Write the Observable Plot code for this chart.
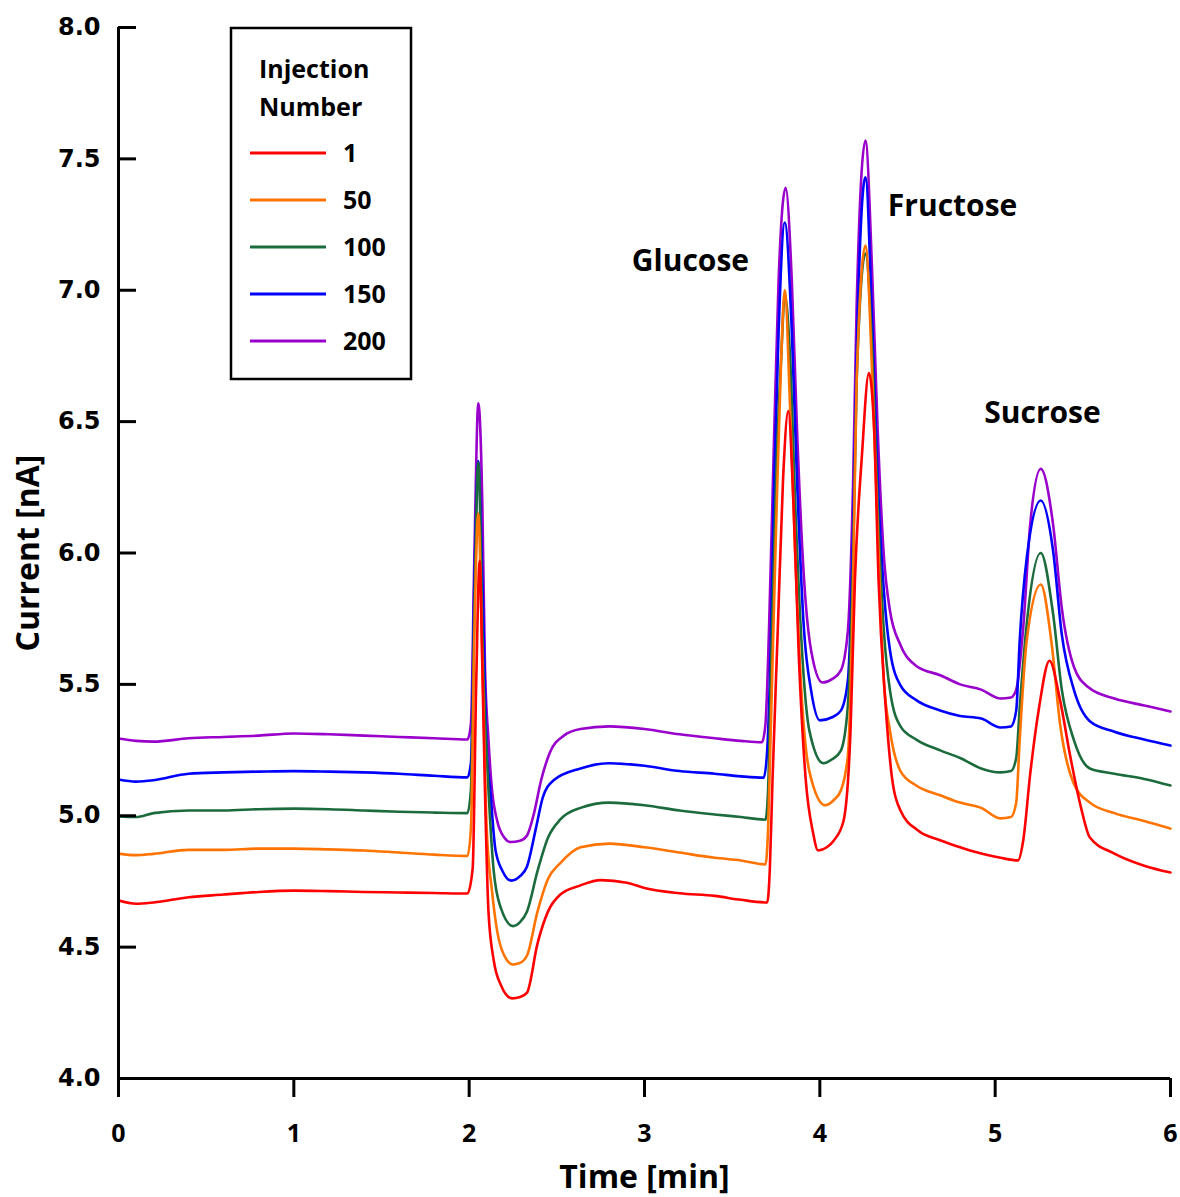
<!DOCTYPE html>
<html>
<head>
<meta charset="utf-8">
<script src="https://cdn.jsdelivr.net/npm/d3@7"></script>
<script src="https://cdn.jsdelivr.net/npm/@observablehq/plot@0.6"></script>
<style>
  html, body { margin: 0; padding: 0; background: #fff; }
  #chart { width: 1180px; height: 1197px; }
</style>
</head>
<body>
<div id="chart"></div>
<script>
// ---- Data (time [min], current [nA]) ----
const injectionNumbers = ["1", "50", "100", "150", "200"];
const seriesColors = ["#ff0000", "#ff7300", "#1c6b3c", "#0000ff", "#9900cc"];
const xTicks = [0, 1, 2, 3, 4, 5, 6];
const yTicks = [4.0, 4.5, 5.0, 5.5, 6.0, 6.5, 7.0, 7.5, 8.0];

const inj200 = [[0,5.294],[0.1,5.285],[0.2,5.282],[0.4,5.295],[0.6,5.30],[0.8,5.305],[1.0,5.313],[1.2,5.31],[1.4,5.305],[1.6,5.30],[1.8,5.295],[1.99,5.29],
[2.01,5.35],[2.03,6.0],[2.052,6.57],[2.075,6.19],[2.09,5.57],[2.11,5.29],[2.13,5.10],[2.16,4.98],[2.20,4.917],[2.235,4.90],[2.29,4.905],[2.33,4.925],[2.37,5.01],[2.41,5.134],[2.46,5.24],[2.54,5.305],[2.635,5.33],[2.8,5.34],[3.0,5.33],[3.2,5.31],[3.4,5.295],[3.55,5.285],[3.67,5.28],
[3.69,5.35],[3.71,5.705],[3.74,6.466],[3.765,7.04],[3.805,7.39],[3.84,7.04],[3.87,6.466],[3.91,5.9],[3.95,5.63],[4.015,5.507],[4.07,5.52],[4.12,5.553],[4.16,5.705],[4.19,6.276],[4.21,6.94],[4.26,7.57],[4.30,7.04],[4.33,6.466],[4.365,5.99],[4.40,5.78],[4.46,5.65],[4.55,5.57],[4.69,5.534],[4.8,5.50],[4.92,5.48],[5.03,5.446],[5.09,5.45],[5.12,5.48],[5.16,5.716],[5.2,6.11],[5.26,6.32],[5.33,6.11],[5.38,5.79],[5.45,5.565],[5.53,5.49],[5.68,5.446],[5.85,5.42],[6.0,5.397]];

const inj150 = [[0,5.138],[0.1,5.13],[0.2,5.135],[0.4,5.16],[0.6,5.165],[0.8,5.168],[1.0,5.17],[1.2,5.168],[1.4,5.165],[1.6,5.16],[1.8,5.152],[1.99,5.146],
[2.01,5.2],[2.03,5.9],[2.052,6.35],[2.075,5.9],[2.10,5.26],[2.12,5.10],[2.15,4.87],[2.19,4.79],[2.24,4.753],[2.29,4.77],[2.33,4.807],[2.38,4.95],[2.42,5.07],[2.48,5.134],[2.635,5.18],[2.8,5.20],[3.0,5.19],[3.2,5.17],[3.4,5.16],[3.55,5.15],[3.68,5.145],
[3.70,5.25],[3.715,5.515],[3.74,6.276],[3.765,6.847],[3.80,7.258],[3.84,6.847],[3.87,6.276],[3.91,5.705],[3.95,5.477],[4.0,5.363],[4.07,5.375],[4.12,5.40],[4.16,5.515],[4.19,6.09],[4.21,6.75],[4.26,7.43],[4.30,6.85],[4.33,6.28],[4.365,5.857],[4.40,5.63],[4.46,5.496],[4.55,5.44],[4.69,5.40],[4.8,5.38],[4.92,5.37],[5.03,5.336],[5.09,5.34],[5.12,5.40],[5.14,5.667],[5.18,5.98],[5.26,6.2],[5.33,6.01],[5.38,5.69],[5.45,5.477],[5.54,5.36],[5.68,5.32],[5.85,5.29],[6.0,5.267]];

const inj100 = [[0,4.997],[0.1,4.995],[0.2,5.01],[0.4,5.02],[0.6,5.02],[0.8,5.025],[1.0,5.027],[1.2,5.025],[1.4,5.02],[1.6,5.015],[1.8,5.012],[1.99,5.01],
[2.01,5.1],[2.03,5.8],[2.052,6.345],[2.08,5.57],[2.11,5.10],[2.14,4.79],[2.18,4.65],[2.25,4.58],[2.29,4.595],[2.33,4.636],[2.39,4.79],[2.45,4.917],[2.52,4.986],[2.635,5.03],[2.8,5.05],[3.0,5.04],[3.2,5.02],[3.4,5.005],[3.55,4.995],[3.69,4.985],
[3.705,5.1],[3.72,5.515],[3.75,6.276],[3.78,6.75],[3.80,6.98],[3.83,6.75],[3.86,6.18],[3.90,5.61],[3.94,5.325],[4.02,5.20],[4.07,5.215],[4.12,5.248],[4.16,5.42],[4.19,5.99],[4.21,6.656],[4.26,7.14],[4.30,6.75],[4.33,6.18],[4.365,5.705],[4.40,5.477],[4.46,5.34],[4.55,5.29],[4.69,5.248],[4.8,5.22],[4.92,5.18],[5.03,5.165],[5.09,5.17],[5.12,5.22],[5.14,5.41],[5.18,5.73],[5.26,6.0],[5.33,5.77],[5.38,5.48],[5.45,5.286],[5.54,5.18],[5.68,5.16],[5.85,5.14],[6.0,5.115]];

const inj50 = [[0,4.856],[0.1,4.85],[0.2,4.855],[0.4,4.87],[0.6,4.87],[0.8,4.875],[1.0,4.875],[1.2,4.872],[1.4,4.868],[1.6,4.86],[1.8,4.852],[1.99,4.847],
[2.01,4.95],[2.03,5.7],[2.052,6.15],[2.075,5.6],[2.10,4.95],[2.13,4.715],[2.16,4.56],[2.20,4.468],[2.25,4.434],[2.29,4.44],[2.33,4.468],[2.39,4.636],[2.45,4.76],[2.52,4.82],[2.635,4.88],[2.8,4.894],[3.0,4.88],[3.2,4.86],[3.4,4.84],[3.55,4.83],[3.69,4.815],
[3.705,4.95],[3.72,5.324],[3.75,6.086],[3.78,6.75],[3.80,7.0],[3.83,6.56],[3.86,5.99],[3.90,5.42],[3.94,5.17],[4.03,5.04],[4.08,5.06],[4.12,5.096],[4.16,5.23],[4.19,5.895],[4.21,6.656],[4.26,7.17],[4.30,6.656],[4.33,6.086],[4.365,5.515],[4.40,5.324],[4.46,5.17],[4.55,5.115],[4.69,5.077],[4.8,5.05],[4.92,5.03],[5.03,4.99],[5.09,4.995],[5.12,5.05],[5.14,5.29],[5.18,5.667],[5.26,5.88],[5.32,5.667],[5.37,5.35],[5.45,5.12],[5.54,5.05],[5.68,5.01],[5.85,4.98],[6.0,4.951]];

const inj1 = [[0,4.677],[0.1,4.665],[0.2,4.67],[0.4,4.69],[0.6,4.70],[0.8,4.71],[1.0,4.715],[1.2,4.713],[1.4,4.71],[1.6,4.708],[1.8,4.706],[1.99,4.704],
[2.02,4.8],[2.04,5.5],[2.06,5.97],[2.075,5.57],[2.09,5.10],[2.11,4.636],[2.14,4.45],[2.18,4.357],[2.245,4.305],[2.29,4.31],[2.33,4.327],[2.39,4.514],[2.45,4.636],[2.52,4.70],[2.635,4.735],[2.75,4.755],[2.9,4.745],[3.0,4.725],[3.2,4.705],[3.4,4.695],[3.55,4.68],[3.70,4.67],
[3.715,4.8],[3.73,5.134],[3.76,5.705],[3.79,6.276],[3.82,6.54],[3.85,6.18],[3.88,5.61],[3.92,5.134],[3.96,4.94],[3.99,4.868],[4.04,4.88],[4.08,4.906],[4.135,4.98],[4.175,5.324],[4.20,5.895],[4.24,6.37],[4.28,6.685],[4.31,6.466],[4.335,5.895],[4.375,5.42],[4.41,5.153],[4.46,5.02],[4.56,4.944],[4.69,4.906],[4.8,4.88],[4.92,4.856],[5.03,4.84],[5.13,4.83],[5.16,4.906],[5.2,5.16],[5.25,5.41],[5.31,5.59],[5.37,5.44],[5.43,5.22],[5.49,5.03],[5.54,4.917],[5.68,4.856],[5.85,4.81],[6.0,4.784]];

const peakLabels = ["Glucose", "Fructose", "Sucrose"];
const peakLabelT = [3.262, 4.757, 5.270];
const peakLabelV = [7.109, 7.319, 6.531];

// ---- Build ----
const seriesData = [inj1, inj50, inj100, inj150, inj200];
const drawOrder = [4, 3, 2, 1, 0]; // 200 at the back, 1 on top
const annotations = peakLabels.map((label, i) => ({label, t: peakLabelT[i], v: peakLabelV[i]}));

const textFont = "'Open Sans', 'Noto Sans', sans-serif";
const tickFont = "'DejaVu Sans', Verdana, sans-serif";

const lineMarks = drawOrder.map(i =>
  Plot.line(seriesData[i], {
    x: d => d[0], y: d => d[1],
    stroke: seriesColors[i], strokeWidth: 2.6, curve: "monotone-x"
  })
);

const chart = Plot.plot({
  width: 1180,
  height: 1197,
  marginLeft: 118,
  marginRight: 10,
  marginTop: 27,
  marginBottom: 119,
  x: {domain: [0, 6]},
  y: {domain: [4, 8]},
  style: {background: "white", color: "black", overflow: "visible"},
  marks: [
    ...lineMarks,
    Plot.ruleY([4], {stroke: "black", strokeWidth: 3}),
    Plot.ruleX([0], {stroke: "black", strokeWidth: 3}),
    Plot.axisX(xTicks, {
      tickSize: 19, strokeWidth: 3, tickPadding: 27,
      fontSize: 25, fontWeight: "bold", fontFamily: textFont,
      tickFormat: d => String(d), label: null
    }),
    Plot.axisY(yTicks, {
      tickSize: 0, tickPadding: 18,
      fontSize: 24, fontWeight: "bold", fontFamily: tickFont,
      tickFormat: d => d.toFixed(1), label: null
    }),
    Plot.tickY(yTicks, {y: d => d, insetRight: 1034, stroke: "black", strokeWidth: 3}),
    Plot.text(annotations, {
      x: "t", y: "v", text: "label",
      fontSize: 30, fontWeight: "bold", fontFamily: textFont, fill: "black"
    }),
    Plot.text(["Time [min]"], {
      frameAnchor: "bottom", dy: 99, text: d => d,
      textAnchor: "middle", lineAnchor: "middle",
      fontSize: 32, fontWeight: "bold", fontFamily: textFont, fill: "black"
    }),
    Plot.text(["Current [nA]"], {
      frameAnchor: "left", dx: -90, rotate: -90, text: d => d,
      textAnchor: "middle", lineAnchor: "middle",
      fontSize: 32, fontWeight: "bold", fontFamily: textFont, fill: "black"
    })
  ]
});

document.getElementById("chart").appendChild(chart);

// ---- Legend (inside the plot area, top-left) ----
const svg = d3.select(chart);
const lg = svg.append("g").attr("class", "legend").attr("text-anchor", "start");
lg.append("rect")
  .attr("x", 231).attr("y", 28).attr("width", 180).attr("height", 351)
  .attr("fill", "white").attr("stroke", "black").attr("stroke-width", 2.5);
[["Injection", 69], ["Number", 107]].forEach(([t, yy]) => {
  lg.append("text").attr("x", 259).attr("y", yy).attr("dy", "0.35em")
    .attr("text-anchor", "start")
    .attr("font-family", textFont).attr("font-size", 25).attr("font-weight", "bold").text(t);
});
injectionNumbers.forEach((name, i) => {
  const yy = 153 + i * 47;
  lg.append("line").attr("x1", 250).attr("x2", 326).attr("y1", yy).attr("y2", yy)
    .attr("stroke", seriesColors[i]).attr("stroke-width", 3);
  lg.append("text").attr("x", 343).attr("y", yy).attr("dy", "0.35em")
    .attr("text-anchor", "start")
    .attr("font-family", textFont).attr("font-size", 25).attr("font-weight", "bold").text(name);
});
</script>
</body>
</html>
